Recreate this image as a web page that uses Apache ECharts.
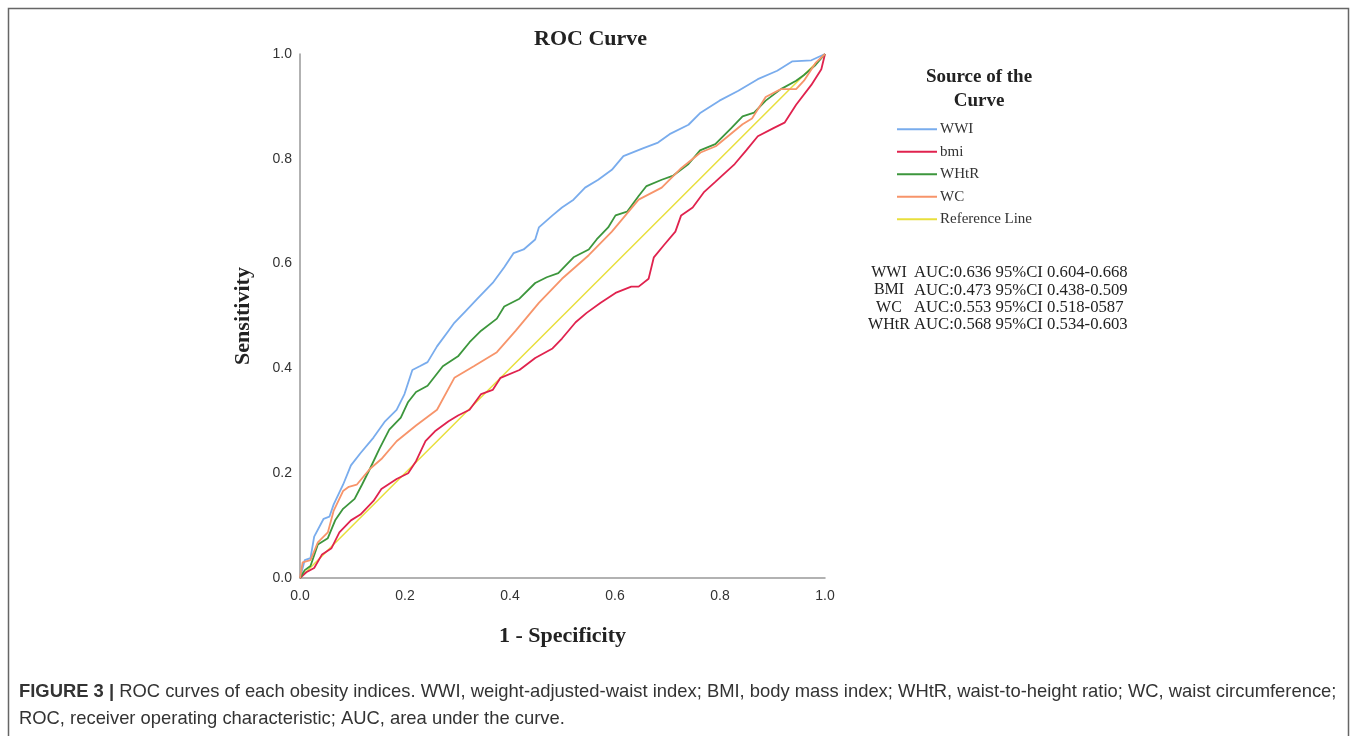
<!DOCTYPE html>
<html>
<head>
<meta charset="utf-8">
<script src="https://cdn.jsdelivr.net/npm/echarts@6/dist/echarts.min.js"></script>
<style>
html,body{margin:0;padding:0;background:#fff;}
#c{width:1357px;height:736px;}
</style>
</head>
<body>
<div id="c"></div>
<script>
// ---- data ----
const xTicks = [0, 0.2, 0.4, 0.6, 0.8, 1.0];
const seriesNames = ['WWI', 'bmi', 'WHtR', 'WC', 'Reference Line'];

const wwiFpr = [0,0.009,0.02,0.027,0.045,0.056,0.064,0.082,0.097,0.115,0.14,0.162,0.184,0.199,0.214,0.228,0.243,0.261,0.283,0.294,0.316,0.338,0.367,0.389,0.407,0.426,0.448,0.455,0.481,0.499,0.521,0.543,0.568,0.594,0.616,0.653,0.682,0.704,0.74,0.763,0.799,0.835,0.872,0.909,0.938,0.974,1];
const wwiTpr = [0,0.034,0.038,0.079,0.113,0.117,0.14,0.178,0.215,0.238,0.268,0.299,0.321,0.351,0.397,0.404,0.412,0.442,0.472,0.487,0.51,0.533,0.563,0.593,0.62,0.627,0.646,0.669,0.692,0.707,0.722,0.745,0.76,0.779,0.805,0.82,0.831,0.847,0.865,0.888,0.911,0.93,0.952,0.968,0.986,0.988,1];

const bmiFpr = [0,0.012,0.027,0.042,0.06,0.075,0.097,0.115,0.14,0.155,0.184,0.206,0.221,0.239,0.257,0.283,0.301,0.323,0.345,0.367,0.382,0.418,0.448,0.481,0.499,0.525,0.546,0.572,0.601,0.631,0.645,0.664,0.674,0.693,0.715,0.726,0.748,0.77,0.791,0.828,0.85,0.872,0.901,0.923,0.945,0.974,0.993,1];
const bmiTpr = [0,0.011,0.019,0.045,0.057,0.087,0.11,0.121,0.147,0.17,0.189,0.2,0.223,0.261,0.28,0.299,0.31,0.321,0.351,0.359,0.382,0.397,0.42,0.438,0.457,0.488,0.506,0.525,0.544,0.556,0.556,0.571,0.612,0.635,0.661,0.692,0.707,0.737,0.756,0.79,0.816,0.843,0.858,0.869,0.903,0.941,0.971,1];

const whtrFpr = [0,0.009,0.02,0.034,0.053,0.067,0.082,0.104,0.118,0.133,0.151,0.17,0.192,0.206,0.221,0.243,0.272,0.301,0.323,0.345,0.375,0.389,0.418,0.448,0.47,0.492,0.521,0.55,0.565,0.587,0.601,0.623,0.645,0.66,0.689,0.711,0.74,0.762,0.791,0.821,0.843,0.865,0.887,0.916,0.945,0.96,0.982,1];
const whtrTpr = [0,0.015,0.023,0.064,0.076,0.11,0.132,0.151,0.178,0.208,0.246,0.283,0.306,0.336,0.355,0.367,0.404,0.423,0.45,0.472,0.495,0.518,0.533,0.563,0.574,0.582,0.612,0.627,0.646,0.669,0.692,0.699,0.729,0.748,0.76,0.768,0.79,0.816,0.828,0.858,0.881,0.888,0.911,0.933,0.949,0.96,0.979,1];

const wcFpr = [0,0.005,0.02,0.034,0.053,0.064,0.082,0.093,0.108,0.133,0.155,0.184,0.221,0.261,0.294,0.331,0.375,0.411,0.455,0.499,0.55,0.594,0.645,0.689,0.726,0.763,0.792,0.843,0.861,0.887,0.916,0.945,0.96,0.982,1];
const wcTpr = [0,0.03,0.034,0.068,0.087,0.128,0.166,0.174,0.178,0.208,0.227,0.261,0.291,0.321,0.382,0.404,0.431,0.472,0.525,0.571,0.616,0.661,0.722,0.745,0.782,0.812,0.824,0.866,0.877,0.918,0.933,0.933,0.949,0.983,1];

const refFpr = [0, 1];
const refTpr = [0, 1];

const aucNames = ['WWI', 'BMI', 'WC', 'WHtR'];
const aucTexts = ['AUC:0.636 95%CI 0.604-0.668', 'AUC:0.473 95%CI 0.438-0.509', 'AUC:0.553 95%CI 0.518-0587', 'AUC:0.568 95%CI 0.534-0.603'];

// ---- chart ----
const colors = ['#79aced', '#e0224e', '#3c963c', '#f7946a', '#e8df3c'];
const zip = (a, b) => a.map((v, i) => [v, b[i]]);
const seriesData = [zip(wwiFpr, wwiTpr), zip(bmiFpr, bmiTpr), zip(whtrFpr, whtrTpr), zip(wcFpr, wcTpr), zip(refFpr, refTpr)];

const serif = '"Liberation Serif", "Times New Roman", serif';
const sans = '"Liberation Sans", Arial, sans-serif';

const chart = echarts.init(document.getElementById('c'));

const graphics = [
  // figure frame
  { type: 'polyline', silent: true, shape: { points: [[8.5, 740], [8.5, 8.5], [1348.5, 8.5], [1348.5, 740]] },
    style: { stroke: '#666', lineWidth: 1.5, fill: null } },
  // legend title
  { type: 'text', x: 979, y: 65, style: { text: 'Source of the\nCurve', font: 'bold 19px ' + serif, fill: '#222', textAlign: 'center', textVerticalAlign: 'top', lineHeight: 24 } },
  // caption
  { type: 'text', x: 19, y: 678, style: {
      text: '{b|FIGURE 3 |} ROC curves of each obesity indices. WWI, weight-adjusted-waist index; BMI, body mass index; WHtR, waist-to-height ratio; WC, waist circumference;\nROC, receiver operating characteristic; AUC, area under the curve.',
      font: '18.4px ' + sans, fill: '#333', lineHeight: 27,
      rich: { b: { font: 'bold 18.4px ' + sans, fill: '#333' } } } }
];
aucNames.forEach((n, i) => {
  graphics.push({ type: 'text', x: 889, y: 273 + i * 17.2, style: { text: n, font: '16px ' + serif, fill: '#222', textAlign: 'center', textVerticalAlign: 'middle' } });
  graphics.push({ type: 'text', x: 914, y: 273 + i * 17.2, style: { text: aucTexts[i], font: '16.7px ' + serif, fill: '#222', textAlign: 'left', textVerticalAlign: 'middle' } });
});

chart.setOption({
  animation: false,
  backgroundColor: '#fff',
  color: colors,
  title: { text: 'ROC Curve', left: 529, top: 23,
    textStyle: { fontFamily: serif, fontWeight: 'bold', fontSize: 22, color: '#222' } },
  legend: {
    orient: 'vertical', left: 897, top: 118, padding: 0,
    data: seriesNames.map(n => ({ name: n, icon: 'rect' })),
    itemWidth: 40, itemHeight: 2, itemGap: 0,
    textStyle: { fontFamily: serif, fontSize: 15, color: '#333', lineHeight: 22.5, padding: [0, 0, 0, -2] }
  },
  grid: { left: 300, right: 532, top: 54, bottom: 158 },
  xAxis: {
    type: 'value', min: 0, max: 1, interval: 0.2,
    name: '1 - Specificity', nameLocation: 'middle', nameGap: 47,
    nameTextStyle: { fontFamily: serif, fontWeight: 'bold', fontSize: 22, color: '#222' },
    axisLine: { lineStyle: { color: '#999', width: 1.5 } },
    axisTick: { show: false }, splitLine: { show: false },
    axisLabel: { margin: 11, fontFamily: sans, fontSize: 14, color: '#333', formatter: v => v.toFixed(1) }
  },
  yAxis: {
    type: 'value', min: 0, max: 1, interval: 0.2,
    name: 'Sensitivity', nameLocation: 'middle', nameGap: 46,
    nameTextStyle: { fontFamily: serif, fontWeight: 'bold', fontSize: 22, color: '#222' },
    axisLine: { show: true, lineStyle: { color: '#999', width: 1.5 } },
    axisTick: { show: false }, splitLine: { show: false },
    axisLabel: { margin: 8, fontFamily: sans, fontSize: 14, color: '#333', formatter: v => v.toFixed(1) }
  },
  series: seriesNames.map((n, i) => ({
    name: n, type: 'line', data: seriesData[i], showSymbol: false, symbol: 'none',
    lineStyle: { width: i === 4 ? 1.5 : 1.8, color: colors[i] },
    z: i === 4 ? 1 : 2
  })),
  graphic: graphics
});
</script>
</body>
</html>
